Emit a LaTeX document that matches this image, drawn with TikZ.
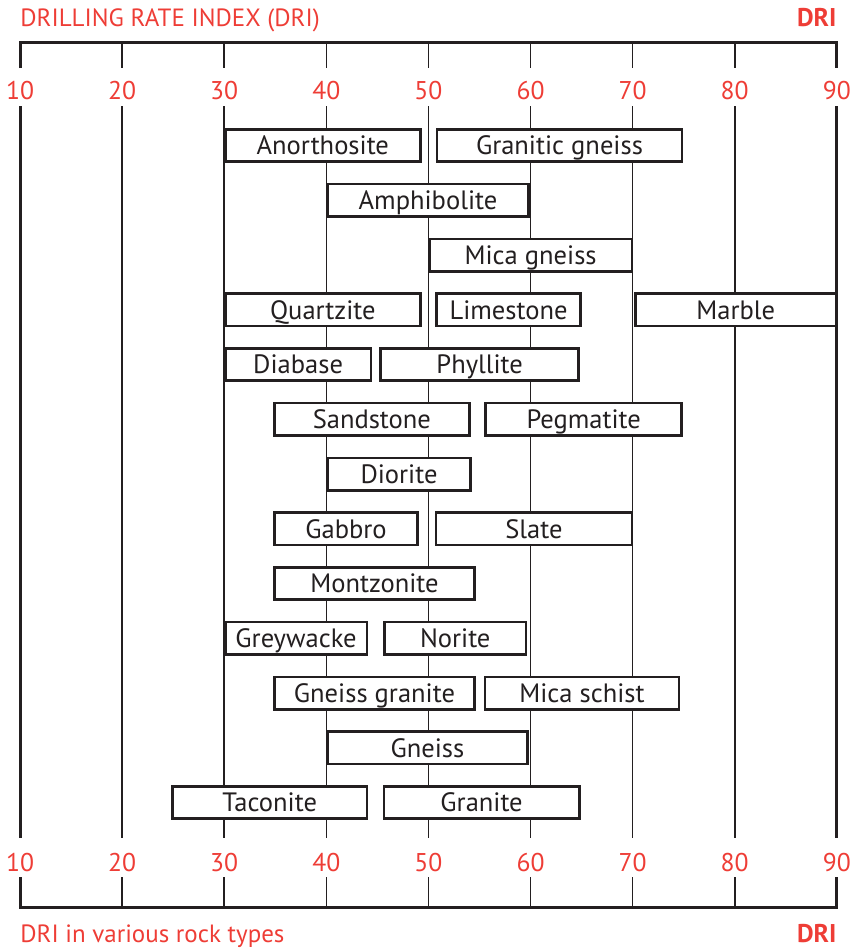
\documentclass[tikz,border=0pt]{standalone}
\usepackage{fontspec}
\setmainfont{PT Sans}
\definecolor{drired}{HTML}{EE3D36}
\definecolor{driline}{HTML}{231F20}

\begin{document}
\begin{tikzpicture}[x=2.042mm,y=-0.2mm,
        rock/.style={draw=driline,line width=0.52mm,fill=white,minimum height=6.48mm,inner sep=0pt,text height=10.6pt,text depth=0pt,text=driline,font=\fontsize{15.1}{18}\selectfont},
        ticklabel/.style={text=drired,inner sep=0pt,font=\fontsize{14.6}{17}\selectfont},
        headlabel/.style={text=drired,inner sep=0pt,font=\fontsize{14.2}{17}\selectfont},
        unitlabel/.style={text=drired,inner sep=0pt,font=\fontsize{14.6}{17}\selectfont\bfseries},
        gridline/.style={driline,line width=0.32mm},
        axisline/.style={driline,line width=0.6mm}]
        \useasboundingbox (8.041,0) rectangle (91.49,949);
        \node[headlabel,anchor=base west] (title) at (10,26.7) {DRILLING RATE INDEX (DRI)};
        \node[unitlabel,anchor=base east] (unittop) at (90,26.7) {DRI};
        \node[headlabel,anchor=base west] (caption) at (10,942) {DRI in various rock types};
        \node[unitlabel,anchor=base east] (unitbottom) at (90,942) {DRI};
        \foreach \v in {10,20,...,90} {
            \node[ticklabel] (top\v) at (\v,90.5) {\v};
            \node[ticklabel] (bottom\v) at (\v,862.5) {\v};
        }
        \foreach \v in {20,30,...,80}
            \draw[gridline] (\v,42) -- (\v,68) (\v,106) -- (\v,838) (\v,877) -- (\v,907);
        \foreach \v in {10,90}
            \draw[axisline] (\v,106) -- (\v,838);
        \draw[axisline] (10,68) -- (10,42) -- (90,42) -- (90,68);
        \draw[axisline] (10,877) -- (10,907) -- (90,907) -- (90,877);
        \node[rock,minimum width=39.02mm] (anorthosite) at (39.66,145.5) {Anorthosite};
        \node[rock,minimum width=49.00mm] (graniticgneiss) at (62.84,145.5) {Granitic gneiss};
        \node[rock,minimum width=40.28mm] (amphibolite) at (49.96,200.25) {Amphibolite};
        \node[rock,minimum width=40.54mm] (micagneiss) at (60.01,255) {Mica gneiss};
        \node[rock,minimum width=39.02mm] (quartzite) at (39.66,309.75) {Quartzite};
        \node[rock,minimum width=28.76mm] (limestone) at (57.85,309.75) {Limestone};
        \node[rock,minimum width=40.08mm] (marble) at (80.11,309.75) {Marble};
        \node[rock,minimum width=29.14mm] (diabase) at (37.24,364.5) {Diabase};
        \node[rock,minimum width=39.62mm] (phyllite) at (55.02,364.5) {Phyllite};
        \node[rock,minimum width=39.02mm] (sandstone) at (44.46,419.25) {Sandstone};
        \node[rock,minimum width=39.22mm] (pegmatite) at (65.21,419.25) {Pegmatite};
        \node[rock,minimum width=28.68mm] (diorite) at (47.12,474) {Diorite};
        \node[rock,minimum width=28.68mm] (gabbro) at (41.93,528.75) {Gabbro};
        \node[rock,minimum width=39.20mm] (slate) at (60.34,528.75) {Slate};
        \node[rock,minimum width=40.08mm] (montzonite) at (44.72,583.5) {Montzonite};
        \node[rock,minimum width=28.32mm] (greywacke) at (37.04,638.25) {Greywacke};
        \node[rock,minimum width=28.32mm] (norite) at (52.63,638.25) {Norite};
        \node[rock,minimum width=40.04mm] (gneissgranite) at (44.72,693) {Gneiss granite};
        \node[rock,minimum width=38.82mm] (micaschist) at (65.04,693) {Mica schist};
        \node[rock,minimum width=40.04mm] (gneiss) at (49.90,747.75) {Gneiss};
        \node[rock,minimum width=38.98mm] (taconite) at (34.46,802.5) {Taconite};
        \node[rock,minimum width=39.12mm] (granite) at (55.21,802.5) {Granite};
    \end{tikzpicture}
\end{document}
